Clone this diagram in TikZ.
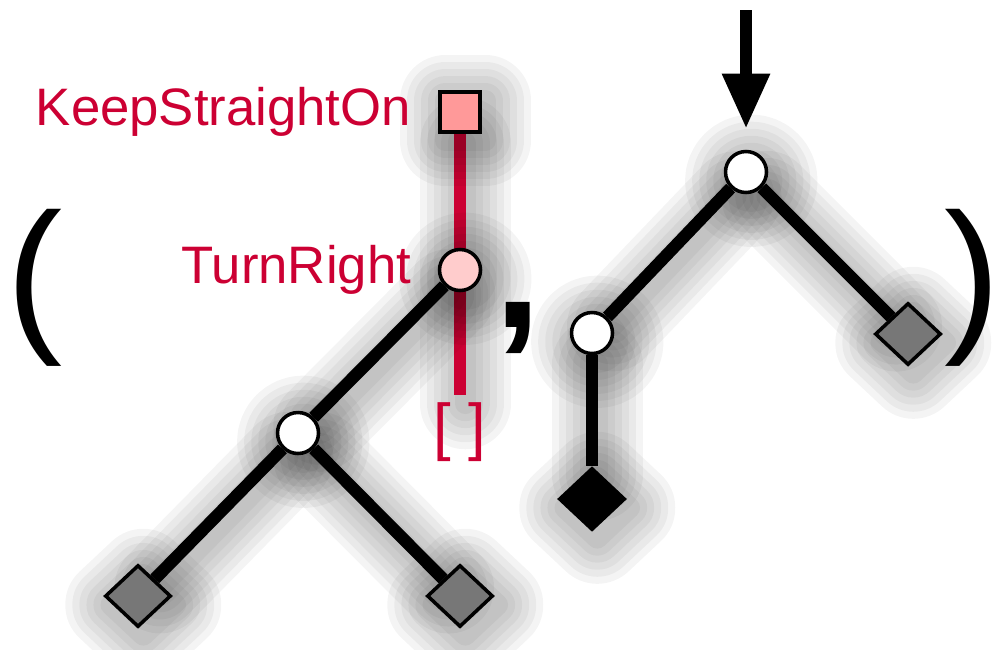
\documentclass[tikz,border=0pt]{standalone}
\usepackage{fontspec}
\setmainfont{Liberation Sans}
\usepackage{xcolor}
\usepackage{tikz}
\usetikzlibrary{shapes,arrows,positioning,calc,arrows.meta,backgrounds}
\definecolor{crimson}{RGB}{204,0,51}
\definecolor{rosy}{RGB}{255,153,153}
\definecolor{blush}{RGB}{255,204,204}
\definecolor{slate}{RGB}{119,119,119}

\begin{document}
\begin{tikzpicture}[auto, node distance=1.6cm, on grid,
    blur/.style={preaction={draw=black, draw opacity=.045, line width=#1, line join=round, line cap=round,
                            transform canvas={shift={(1.5pt,-2.5pt)}}}},
    halo/.style={blur=26pt, blur=22pt, blur=18pt, blur=14pt, blur=10pt, blur=6pt},
    fork/.style={circle, draw, line width=1pt, fill=white, minimum size=0.41cm, inner sep=0pt, halo},
    leaf/.style={diamond, draw, line width=1pt, fill=slate, minimum width=0.66cm, minimum height=0.62cm, inner sep=0pt, halo},
    branch/.style={line width=3.5pt, halo},
    stem/.style={line width=3.6pt, draw=crimson, halo},
    lbl/.style={text=crimson, font=\fontsize{15}{18}\selectfont, inner sep=0pt},
    paren/.style={font=\fontsize{48}{48}\selectfont, inner sep=0pt}]
    \useasboundingbox (0,0) rectangle (10,-6.49);

    \node [fork, fill=blush, label={[lbl, label distance=0.26cm]left:TurnRight}] (TR) at (4.60,-2.70) {};
    \node [draw, line width=1.3pt, fill=rosy, minimum size=0.40cm, inner sep=0pt, halo, above=1.58cm of TR,
           label={[lbl, label distance=0.26cm]left:KeepStraightOn}] (KSO) {};
    \node [lbl, font=\fontsize{18}{20}\selectfont, inner sep=2pt, below=1.62cm of TR] (NIL) {[ ]};
    \node [fork, below left=1.63cm and 1.62cm of TR] (N1) {};
    \node [leaf, below left=1.63cm and 1.60cm of N1] (LA) {};
    \node [leaf, below right=1.63cm and 1.62cm of N1] (LB) {};

    \node [fork, above right=0.98cm and 2.86cm of TR] (ROOT) {};
    \node [fork, below left=1.61cm and 1.54cm of ROOT] (N2) {};
    \node [leaf, below right=1.62cm and 1.62cm of ROOT] (LC) {};
    \node [leaf, fill=black, below=1.66cm of N2] (STOP) {};
    \coordinate [above=1.62cm of ROOT] (ENTRY);

    \node [paren] (OPEN) at (0.35,-2.88) {(};
    \node [paren, font=\fontsize{48}{48}\selectfont\bfseries] (COMMA) at (5.18,-3.28) {,};
    \node [paren] (CLOSE) at (9.73,-2.88) {)};

    \begin{scope}[on background layer]
    \draw [stem] (KSO) -- (NIL);
    \draw [branch] (TR) -- (N1);
    \draw [branch] (N1) -- (LA);
    \draw [branch] (N1) -- (LB);
    \draw [branch] (ROOT) -- (N2);
    \draw [branch] (ROOT) -- (LC);
    \draw [branch] (N2) -- (STOP);
    \end{scope}

    \draw [-{Triangle[width=0.45cm,length=0.55cm]}, line width=3.4pt, shorten >=6pt] (ENTRY) -- (ROOT);
\end{tikzpicture}
\end{document}
